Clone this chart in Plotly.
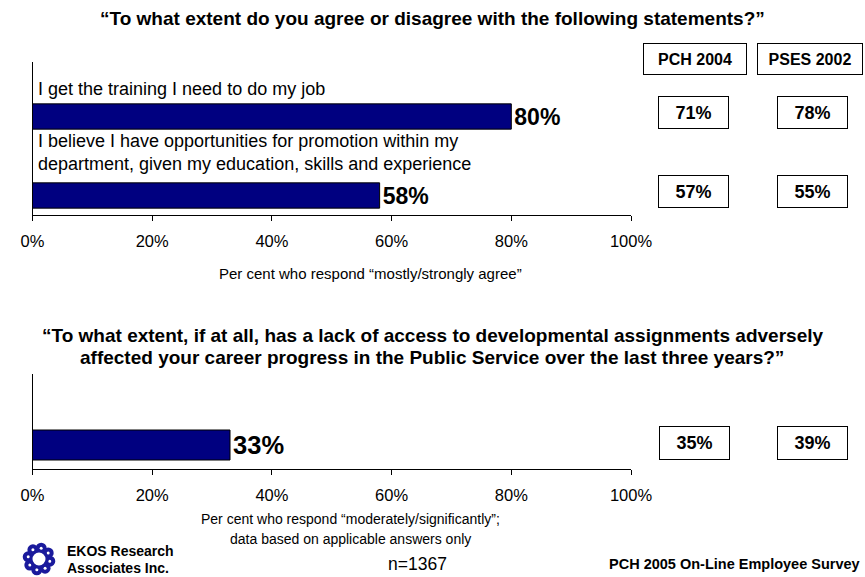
import math
import plotly.graph_objects as go

W, H = 865, 577

# ---- data ----
top_questions = [
    "I get the training I need to do my job",
    "I believe I have opportunities for promotion within my<br>"
    "department, given my education, skills and experience",
]
top_values = [80, 58]
top_pch2004 = [71, 57]
top_pses2002 = [78, 55]

bottom_values = [33]
bottom_pch2004 = [35]
bottom_pses2002 = [39]

tick_vals = [0, 20, 40, 60, 80, 100]
tick_text = ["0%", "20%", "40%", "60%", "80%", "100%"]

NAVY = "#000080"
FONT = "Liberation Sans, Arial"
BLACK = "#000000"


def px(x):
    return x / W


def py(y):
    return 1 - y / H


def paper_text(x, y, text, size, anchor="center"):
    return dict(x=px(x), y=py(y), xref="paper", yref="paper", text=text,
                showarrow=False, xanchor=anchor, yanchor="middle",
                font=dict(family=FONT, size=size, color=BLACK))


fig = go.Figure()

fig.add_trace(go.Bar(
    x=top_values, y=list(range(len(top_values))), orientation="h",
    width=0.32, marker=dict(color=NAVY, line=dict(color=BLACK, width=1)),
    text=[f"<b>{v}%</b>" for v in top_values], textposition="outside",
    textfont=dict(family=FONT, size=25.5, color=BLACK),
    cliponaxis=False, xaxis="x", yaxis="y", hoverinfo="skip",
))
fig.add_trace(go.Bar(
    x=bottom_values, y=list(range(len(bottom_values))), orientation="h",
    width=0.6, marker=dict(color=NAVY, line=dict(color=BLACK, width=1)),
    text=[f"<b>{v}%</b>" for v in bottom_values], textposition="outside",
    textfont=dict(family=FONT, size=25.5, color=BLACK),
    cliponaxis=False, xaxis="x2", yaxis="y2", hoverinfo="skip",
))

axis_common = dict(
    range=[0, 100], tickvals=tick_vals, ticktext=tick_text,
    showgrid=False, zeroline=False, showline=True, linecolor=BLACK,
    linewidth=1, ticks="outside", ticklen=5, tickcolor=BLACK, tickwidth=1,
    tickfont=dict(family=FONT, size=16.5, color=BLACK),
    ticklabelstandoff=6, automargin=False, fixedrange=True,
)
yaxis_common = dict(showticklabels=False, showgrid=False, zeroline=False,
                    showline=True, linecolor=BLACK, linewidth=1, ticks="",
                    automargin=False, fixedrange=True)

fig.update_layout(
    template="none",
    width=W, height=H, margin=dict(l=0, r=0, t=0, b=0, pad=0, autoexpand=False),
    paper_bgcolor="white", plot_bgcolor="white", showlegend=False,
    xaxis=dict(domain=[px(32.5), px(631)], anchor="y", **axis_common),
    yaxis=dict(domain=[py(215), py(62)], range=[1.247, -0.69], **yaxis_common),
    xaxis2=dict(domain=[px(32.5), px(631)], anchor="y2", **axis_common),
    yaxis2=dict(domain=[py(469), py(374)], range=[0.48, -1.42], **yaxis_common),
)

ann = []

# question texts above the top bars (pixel offsets above each bar centre)
label_shifts = [27.5, 43]
for i, q in enumerate(top_questions):
    ann.append(dict(x=0, y=i, xref="x", yref="y", text=q,
                    showarrow=False, xanchor="left", yanchor="middle",
                    align="left", xshift=3, yshift=label_shifts[i],
                    font=dict(family=FONT, size=18, color=BLACK)))

# titles
ann.append(paper_text(432, 19, "<b>\u201cTo what extent do you agree or disagree with the following statements?\u201d</b>", 19))
ann.append(paper_text(432, 335, "<b>\u201cTo what extent, if at all, has a lack of access to developmental assignments adversely</b>", 19))
ann.append(paper_text(432, 357, "<b>affected your career progress in the Public Service over the last three years?\u201d</b>", 19))

# axis captions and footer
ann.append(paper_text(370, 273, "Per cent who respond \u201cmostly/strongly agree\u201d", 15))
ann.append(paper_text(350, 519, "Per cent who respond \u201cmoderately/significantly\u201d;", 14))
ann.append(paper_text(350, 539, "data based on applicable answers only", 14))
ann.append(paper_text(417, 564, "n=1367", 17.5))
ann.append(paper_text(862, 564, "<b>PCH 2005 On-Line Employee Survey</b>", 14.5, anchor="right"))
ann.append(paper_text(65, 551, "<b>EKOS Research</b>", 14, anchor="left"))
ann.append(paper_text(65, 568, "<b>Associates Inc.</b>", 14, anchor="left"))

# comparison column headers
for cx, label, w in [(695, "PCH 2004", 100), (810, "PSES 2002", 102)]:
    ann.append(dict(x=px(cx), y=py(59), xref="paper", yref="paper",
                    xanchor="center", yanchor="middle",
                    text=f"<b>{label}</b>", showarrow=False, width=w, height=28,
                    bordercolor=BLACK, borderwidth=1, borderpad=1,
                    font=dict(family=FONT, size=16, color=BLACK)))


def value_box(cx, yval, yref, v, h, shift):
    return dict(x=px(cx), y=yval, xref="paper", yref=yref,
                xanchor="center", yanchor="middle",
                text=f"<b>{v}%</b>", showarrow=False, width=67, height=h,
                bordercolor=BLACK, borderwidth=1, borderpad=1, yshift=shift,
                font=dict(family=FONT, size=18, color=BLACK))


for i in range(len(top_values)):
    ann.append(value_box(693.5, i, "y", top_pch2004[i], 29, 4))
    ann.append(value_box(812, i, "y", top_pses2002[i], 29, 4))
for i in range(len(bottom_values)):
    ann.append(value_box(694, i, "y2", bottom_pch2004[i], 30, 2))
    ann.append(value_box(812, i, "y2", bottom_pses2002[i], 30, 2))

fig.update_layout(annotations=ann)

# logo: a ring of blue swirls around a white centre
LOGO = "#1a1a9c"
shapes = []
cx, cy, r = 39, 559, 11
for k in range(8):
    a = 2 * math.pi * k / 8 + 0.2
    x0 = cx + r * math.cos(a)
    y0 = cy + r * math.sin(a)
    shapes.append(dict(type="circle", xref="paper", yref="paper",
                       x0=px(x0 - 5.5), x1=px(x0 + 5.5), y0=py(y0 + 5.5), y1=py(y0 - 5.5),
                       fillcolor=LOGO, line=dict(width=0)))
    shapes.append(dict(type="circle", xref="paper", yref="paper",
                       x0=px(x0 - 1.5), x1=px(x0 + 1.5), y0=py(y0 + 1.5), y1=py(y0 - 1.5),
                       fillcolor="white", line=dict(width=0)))
shapes.append(dict(type="circle", xref="paper", yref="paper",
                   x0=px(cx - 8), x1=px(cx + 8), y0=py(cy + 8), y1=py(cy - 8),
                   fillcolor="white", line=dict(color=LOGO, width=3)))
fig.update_layout(shapes=shapes)

fig.write_html("out.html", config={"displayModeBar": False})
